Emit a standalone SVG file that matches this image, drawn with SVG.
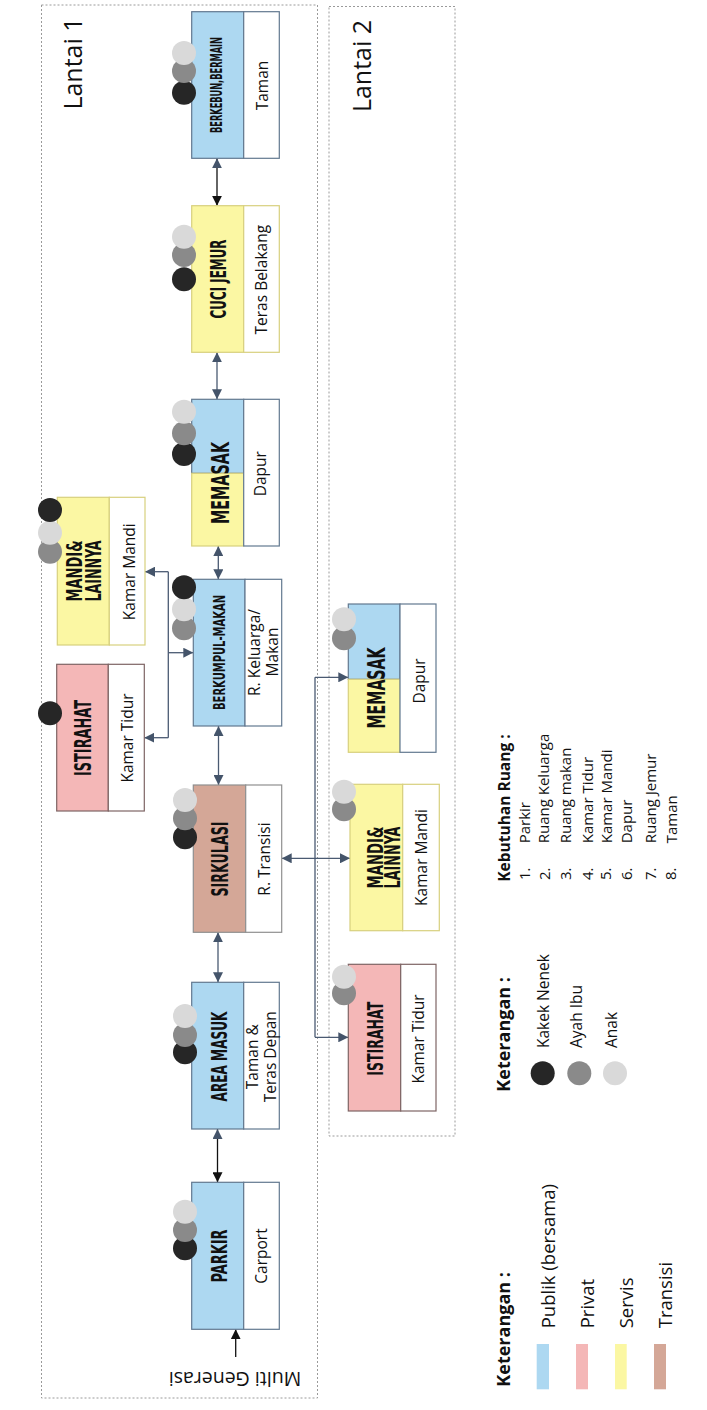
<svg xmlns="http://www.w3.org/2000/svg" width="707" height="1410" viewBox="0 0 707 1410">
<style>
.frame{fill:none;stroke:#9a9a9a;stroke-width:1;stroke-dasharray:2,2}
.t{font-family:"DejaVu Sans Condensed","DejaVu Sans",sans-serif;font-weight:bold;fill:#111}
.d{font-family:"Open Sans","Liberation Sans",sans-serif;font-size:15.5px;fill:#111}
.lg{font-family:"Open Sans","Liberation Sans",sans-serif;fill:#111}
.pub{fill:#ADD8F1;stroke:#62788F;stroke-width:1.2}
.pri{fill:#F4B7B7;stroke:#7E6464;stroke-width:1.2}
.ser{fill:#FBF7A3;stroke:#D8D07E;stroke-width:1.2}
.tra{fill:#D4A797;stroke:#8F8F8F;stroke-width:1.2}
.wpub{fill:#fff;stroke:#62788F;stroke-width:1.2}
.wpri{fill:#fff;stroke:#7E6464;stroke-width:1.2}
.wser{fill:#fff;stroke:#D8D07E;stroke-width:1.2}
.wtra{fill:#fff;stroke:#8F8F8F;stroke-width:1.2}
.k1{fill:#262626}.k2{fill:#8A8A8A}.k3{fill:#D9D9D9}
.c{fill:none;stroke:#4A5A72;stroke-width:1.3}
.cb{fill:none;stroke:#111;stroke-width:1.3}
</style>
<defs>
<marker id="a" viewBox="0 0 10 10" refX="10" refY="5" markerWidth="10" markerHeight="10" orient="auto-start-reverse" markerUnits="userSpaceOnUse"><path d="M0,0 L10,5 L0,10 z" fill="#44546A"/></marker>
<marker id="ab" viewBox="0 0 10 10" refX="10" refY="5" markerWidth="10" markerHeight="10" orient="auto-start-reverse" markerUnits="userSpaceOnUse"><path d="M0,0 L10,5 L0,10 z" fill="#111"/></marker>
</defs>
<rect width="707" height="1410" fill="#fff"/>

<g id="frames">
<rect class="frame" x="41.5" y="5" width="276" height="1393"/>
<rect class="frame" x="329" y="6.5" width="126" height="1129.5"/>
<text class="lg" font-size="25" transform="translate(82,63.5) rotate(-90)" text-anchor="middle">Lantai 1</text>
<text class="lg" font-size="25" transform="translate(370.5,66) rotate(-90)" text-anchor="middle">Lantai 2</text>
<text class="lg" font-size="19.5" transform="translate(235,1372) rotate(180)" text-anchor="middle">Multi Generasi</text>
</g>

<g id="connectors">
<path class="cb" d="M217,158.3 V205.7" marker-start="url(#a)" marker-end="url(#ab)"/>
<path class="c" d="M217,352.3 V399.3" marker-start="url(#a)" marker-end="url(#a)"/>
<path class="c" d="M218.3,546 V579.3" marker-start="url(#a)" marker-end="url(#a)"/>
<path class="c" d="M218.5,726 V785" marker-start="url(#a)" marker-end="url(#a)"/>
<path class="c" d="M218,932.3 V982.3" marker-start="url(#a)" marker-end="url(#a)"/>
<path class="cb" d="M217.5,1129 V1182.3" marker-start="url(#a)" marker-end="url(#ab)"/>
<path class="cb" d="M235.7,1357 V1329.3" marker-end="url(#ab)"/>
<path class="c" d="M168.3,652.7 H193.3" marker-end="url(#a)"/>
<path class="c" d="M168.3,571.7 V737.7"/>
<path class="c" d="M168.3,571.7 H145" marker-end="url(#a)"/>
<path class="c" d="M168.3,737.7 H144.3" marker-end="url(#a)"/>
<path class="c" d="M315,858.3 H281.7" stroke-width="2" marker-end="url(#a)"/>
<path class="c" d="M315,677.3 V1037.3"/>
<path class="c" d="M315,677.3 H348.3" marker-end="url(#a)"/>
<path class="c" d="M315,858.3 H350" marker-end="url(#a)"/>
<path class="c" d="M315,1037.3 H348.3" marker-end="url(#a)"/>
</g>

<g id="n-berkebun">
<rect class="pub" x="191.7" y="11.7" width="52" height="146.6"/>
<rect class="wpub" x="243.7" y="11.7" width="35.6" height="146.6"/>
<text class="t" font-size="15" transform="translate(221.7,85) rotate(-90)" text-anchor="middle" textLength="96" lengthAdjust="spacingAndGlyphs">BERKEBUN,BERMAIN</text>
<text class="d" transform="translate(267.7,85.5) rotate(-90)" text-anchor="middle">Taman</text>
<circle class="k1" cx="184" cy="92.7" r="12"/><circle class="k2" cx="184" cy="71" r="12"/><circle class="k3" cx="184" cy="53" r="12"/>
</g>

<g id="n-cucijemur">
<rect class="ser" x="191.7" y="205.7" width="52" height="146.6"/>
<rect class="wser" x="243.7" y="205.7" width="35.6" height="146.6"/>
<text class="t" font-size="22" transform="translate(226,279) rotate(-90)" text-anchor="middle" textLength="79" lengthAdjust="spacingAndGlyphs">CUCI JEMUR</text>
<text class="d" transform="translate(266.7,279.7) rotate(-90)" text-anchor="middle">Teras Belakang</text>
<circle class="k1" cx="184" cy="279.3" r="12"/><circle class="k2" cx="184" cy="255" r="12"/><circle class="k3" cx="184" cy="236.7" r="12"/>
</g>

<g id="n-memasak1">
<rect class="pub" x="191.7" y="399.3" width="52" height="74"/>
<rect class="ser" x="191.7" y="473.3" width="52" height="72.7"/>
<rect class="wpub" x="243.7" y="399.3" width="35.6" height="146.7"/>
<text class="t" font-size="25" transform="translate(229.3,483) rotate(-90)" text-anchor="middle" textLength="82" lengthAdjust="spacingAndGlyphs">MEMASAK</text>
<text class="d" transform="translate(266,473.7) rotate(-90)" text-anchor="middle">Dapur</text>
<circle class="k1" cx="184" cy="454" r="12"/><circle class="k2" cx="184" cy="433.3" r="12"/><circle class="k3" cx="184" cy="411.7" r="12"/>
</g>

<g id="n-berkumpul">
<rect class="pub" x="193.3" y="579.3" width="51.7" height="146.7"/>
<rect class="wpub" x="245" y="579.3" width="36.7" height="146.7"/>
<text class="t" font-size="16" transform="translate(225,652.5) rotate(-90)" text-anchor="middle" textLength="115" lengthAdjust="spacingAndGlyphs">BERKUMPUL-MAKAN</text>
<text class="d" transform="translate(260,652.5) rotate(-90)" text-anchor="middle">R. Keluarga/</text>
<text class="d" transform="translate(278,652) rotate(-90)" text-anchor="middle">Makan</text>
<circle class="k2" cx="184" cy="628.3" r="12"/><circle class="k3" cx="184" cy="609.3" r="12"/><circle class="k1" cx="184" cy="587.3" r="12"/>
</g>

<g id="n-mandi1">
<rect class="ser" x="57.3" y="497.3" width="52" height="147.7"/>
<rect class="wser" x="109.3" y="497.3" width="35.7" height="147.7"/>
<text class="t" font-size="21" transform="translate(81.7,571) rotate(-90)" text-anchor="middle" textLength="61" lengthAdjust="spacingAndGlyphs">MANDI&amp;</text>
<text class="t" font-size="21" transform="translate(101,571) rotate(-90)" text-anchor="middle" textLength="61" lengthAdjust="spacingAndGlyphs">LAINNYA</text>
<text class="d" transform="translate(135,571.7) rotate(-90)" text-anchor="middle">Kamar Mandi</text>
<circle class="k2" cx="50" cy="551.7" r="12"/><circle class="k3" cx="50" cy="532.7" r="12"/><circle class="k1" cx="50" cy="510" r="12"/>
</g>

<g id="n-istirahat1">
<rect class="pri" x="56.7" y="664.3" width="51.6" height="146.7"/>
<rect class="wpri" x="108.3" y="664.3" width="36" height="146.7"/>
<text class="t" font-size="23" transform="translate(90.7,738) rotate(-90)" text-anchor="middle" textLength="76" lengthAdjust="spacingAndGlyphs">ISTIRAHAT</text>
<text class="d" transform="translate(133.3,738) rotate(-90)" text-anchor="middle">Kamar Tidur</text>
<circle class="k1" cx="50" cy="713.3" r="12"/>
</g>

<g id="n-sirkulasi">
<rect class="tra" x="193.3" y="785" width="52.4" height="147.3"/>
<rect class="wtra" x="245.7" y="785" width="36" height="147.3"/>
<text class="t" font-size="23" transform="translate(228.3,859) rotate(-90)" text-anchor="middle" textLength="75" lengthAdjust="spacingAndGlyphs">SIRKULASI</text>
<text class="d" transform="translate(270,859) rotate(-90)" text-anchor="middle">R. Transisi</text>
<circle class="k1" cx="185" cy="837.3" r="12"/><circle class="k2" cx="185" cy="818.3" r="12"/><circle class="k3" cx="185" cy="800" r="12"/>
</g>

<g id="n-areamasuk">
<rect class="pub" x="191.7" y="982.3" width="52" height="146.7"/>
<rect class="wpub" x="243.7" y="982.3" width="35.6" height="146.7"/>
<text class="t" font-size="22" transform="translate(226.7,1056.5) rotate(-90)" text-anchor="middle" textLength="90" lengthAdjust="spacingAndGlyphs">AREA MASUK</text>
<text class="d" transform="translate(258.3,1056.7) rotate(-90)" text-anchor="middle">Taman &amp;</text>
<text class="d" transform="translate(275.5,1056.7) rotate(-90)" text-anchor="middle">Teras Depan</text>
<circle class="k1" cx="185" cy="1052.3" r="12"/><circle class="k2" cx="185" cy="1035" r="12"/><circle class="k3" cx="185" cy="1016" r="12"/>
</g>

<g id="n-parkir">
<rect class="pub" x="191.7" y="1182.3" width="52" height="147"/>
<rect class="wpub" x="243.7" y="1182.3" width="35.6" height="147"/>
<text class="t" font-size="22" transform="translate(226.7,1256) rotate(-90)" text-anchor="middle" textLength="53" lengthAdjust="spacingAndGlyphs">PARKIR</text>
<text class="d" transform="translate(267,1256) rotate(-90)" text-anchor="middle">Carport</text>
<circle class="k1" cx="185" cy="1248.3" r="12"/><circle class="k2" cx="185" cy="1230" r="12"/><circle class="k3" cx="185" cy="1211.7" r="12"/>
</g>

<g id="n-memasak2">
<rect class="pub" x="348.3" y="604" width="51.7" height="75.3"/>
<rect class="ser" x="348.3" y="679.3" width="51.7" height="73"/>
<rect class="wpub" x="400" y="604" width="36" height="148.3"/>
<text class="t" font-size="25" transform="translate(385,688) rotate(-90)" text-anchor="middle" textLength="81" lengthAdjust="spacingAndGlyphs">MEMASAK</text>
<text class="d" transform="translate(425,681) rotate(-90)" text-anchor="middle">Dapur</text>
<circle class="k2" cx="344" cy="638.3" r="12"/><circle class="k3" cx="344" cy="619.3" r="12"/>
</g>

<g id="n-mandi2">
<rect class="ser" x="350" y="784.3" width="52.7" height="146.4"/>
<rect class="wser" x="402.7" y="784.3" width="36.6" height="146.4"/>
<text class="t" font-size="21" transform="translate(383.3,857.5) rotate(-90)" text-anchor="middle" textLength="62" lengthAdjust="spacingAndGlyphs">MANDI&amp;</text>
<text class="t" font-size="21" transform="translate(400,857.5) rotate(-90)" text-anchor="middle" textLength="62" lengthAdjust="spacingAndGlyphs">LAINNYA</text>
<text class="d" transform="translate(426.7,857.5) rotate(-90)" text-anchor="middle">Kamar Mandi</text>
<circle class="k2" cx="344" cy="809.3" r="12"/><circle class="k3" cx="344" cy="791.7" r="12"/>
</g>

<g id="n-istirahat2">
<rect class="pri" x="348.3" y="964.3" width="52.4" height="146.7"/>
<rect class="wpri" x="400.7" y="964.3" width="35.3" height="146.7"/>
<text class="t" font-size="22" transform="translate(382.7,1038.7) rotate(-90)" text-anchor="middle" textLength="74" lengthAdjust="spacingAndGlyphs">ISTIRAHAT</text>
<text class="d" transform="translate(424,1039) rotate(-90)" text-anchor="middle">Kamar Tidur</text>
<circle class="k2" cx="344" cy="993.3" r="12"/><circle class="k3" cx="344" cy="976.7" r="12"/>
</g>

<g id="legend-users">
<text class="lg" font-size="18" font-weight="bold" transform="translate(510,1091.7) rotate(-90)">Keterangan :</text>
<circle class="k1" cx="542.7" cy="1073.3" r="12"/>
<circle class="k2" cx="579.3" cy="1073.3" r="12"/>
<circle class="k3" cx="615" cy="1073.3" r="12"/>
<text class="lg" font-size="15.5" transform="translate(549.3,1048) rotate(-90)">Kakek Nenek</text>
<text class="lg" font-size="15.5" transform="translate(581.7,1048) rotate(-90)">Ayah Ibu</text>
<text class="lg" font-size="15.5" transform="translate(616.7,1048) rotate(-90)">Anak</text>
</g>

<g id="legend-rooms">
<text class="lg" font-size="15.5" font-weight="bold" transform="translate(510,881.7) rotate(-90)">Kebutuhan Ruang :</text>
<g font-size="15">
<text class="lg" transform="translate(530,880) rotate(-90)">1.</text>
<text class="lg" transform="translate(550,880) rotate(-90)">2.</text>
<text class="lg" transform="translate(571,880) rotate(-90)">3.</text>
<text class="lg" transform="translate(593,880) rotate(-90)">4.</text>
<text class="lg" transform="translate(611,880) rotate(-90)">5.</text>
<text class="lg" transform="translate(632,880) rotate(-90)">6.</text>
<text class="lg" transform="translate(656,880) rotate(-90)">7.</text>
<text class="lg" transform="translate(676,880) rotate(-90)">8.</text>
<text class="lg" transform="translate(530,843.3) rotate(-90)">Parkir</text>
<text class="lg" transform="translate(549,843.3) rotate(-90)">Ruang Keluarga</text>
<text class="lg" transform="translate(570.5,843.3) rotate(-90)">Ruang makan</text>
<text class="lg" transform="translate(593,843.3) rotate(-90)">Kamar Tidur</text>
<text class="lg" transform="translate(612,843.3) rotate(-90)">Kamar Mandi</text>
<text class="lg" transform="translate(632,843.3) rotate(-90)">Dapur</text>
<text class="lg" transform="translate(655.5,843.3) rotate(-90)">Ruang Jemur</text>
<text class="lg" transform="translate(677,843.3) rotate(-90)">Taman</text>
</g>
</g>

<g id="legend-zones">
<text class="lg" font-size="18" font-weight="bold" transform="translate(510,1386.7) rotate(-90)">Keterangan :</text>
<rect x="536.7" y="1344" width="12.3" height="45.3" fill="#ADD8F1"/>
<rect x="576" y="1344" width="12" height="45.3" fill="#F4B7B7"/>
<rect x="615" y="1344" width="11.7" height="45.3" fill="#FBF7A3"/>
<rect x="654" y="1344" width="12" height="45.3" fill="#D4A797"/>
<text class="lg" font-size="18.5" transform="translate(555,1328.3) rotate(-90)">Publik (bersama)</text>
<text class="lg" font-size="18.5" transform="translate(594,1328.3) rotate(-90)">Privat</text>
<text class="lg" font-size="18.5" transform="translate(633.3,1328.3) rotate(-90)">Servis</text>
<text class="lg" font-size="18.5" transform="translate(671.7,1328.3) rotate(-90)">Transisi</text>
</g>
</svg>
